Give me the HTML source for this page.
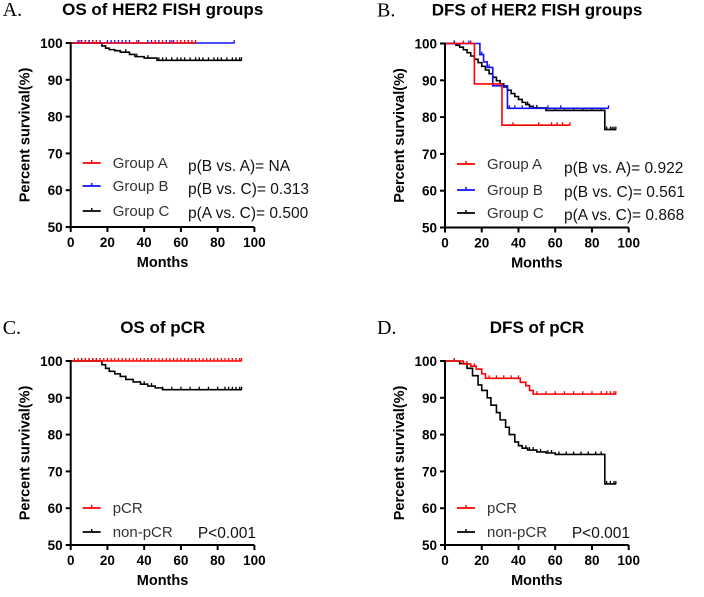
<!DOCTYPE html>
<html><head><meta charset="utf-8"><style>
html,body{margin:0;padding:0;background:#fff;}
svg text{font-family:"Liberation Sans",Arial,sans-serif;}
svg text.serif{font-family:"Liberation Serif","Times New Roman",serif;}
</style></head><body>
<svg id="fig" width="704" height="592" viewBox="0 0 704 592" xmlns="http://www.w3.org/2000/svg"></svg>
<script>
// ---- data (months, survival %) ----
const xTicks = [0,20,40,60,80,100];
const yTicks = [50,60,70,80,90,100];
// Panel A
const aGroupAT=[0,68], aGroupAS=[100,100], aGroupAC=[5,8,12,14,36,46,50,55,58,60,62,64,66,68];
const aGroupBT=[0,89], aGroupBS=[100,100], aGroupBC=[4,6,8,10,16,20,22,24,26,28,30,32,37,42,44,46,48,52,54,56,60,64,89];
const aGroupCT=[0,17,19,21,24,27,32,35,40,47,93], aGroupCS=[100,99.2,98.6,98.2,97.9,97.5,96.9,96.3,95.9,95.3,95.3], aGroupCC=[8,10,12,14,30,36,42,48,50,52,55,58,60,62,65,68,70,72,75,78,80,82,85,88,90,92,93];
// Panel B
const bGroupAT=[0,16,31,68], bGroupAS=[100,89,77.8,77.8], bGroupAC=[10,14,37,51,58,61,64,68];
const bGroupBT=[0,19,21,23,26,34,89], bGroupBS=[100,97,95,93.5,88.5,82.4,82.4], bGroupBC=[5,13,20,24,35,38,42,48,56,63,89];
const bGroupCT=[0,6,8,10,12,14,16,18,20,22,24,26,28,30,32,34,36,38,40,42,44,46,48,55,87,93], bGroupCS=[100,99.5,99,98.3,97.5,96.6,95.7,94.8,93.8,92.8,91.8,90.8,89.9,89,88.2,87.3,86.4,85.6,84.8,84,83.4,82.9,82.5,81.8,76.6,76.6], bGroupCC=[5,40,45,50,55,60,65,70,75,80,85,88,90,91,92,93];
// Panel C
const cPcrT=[0,93], cPcrS=[100,100], cPcrC=[2,4,6,8,10,12,14,16,18,20,22,24,26,28,30,32,34,36,38,40,42,44,46,48,50,52,54,56,58,60,62,64,66,68,70,72,74,76,78,80,82,84,86,88,90,92,93];
const cNonT=[0,17,19,21,24,27,30,34,38,42,46,50,93], cNonS=[100,99,98,97.2,96.5,95.8,95,94.3,93.7,93.2,92.7,92.2,92.2], cNonC=[6,8,10,12,14,40,44,50,55,60,65,70,75,80,84,86,88,90,92,93];
// Panel D
const dPcrT=[0,10,14,17,20,22,38,41,44,46,48,93], dPcrS=[100,99.2,98.6,97.8,96.5,95.3,95.3,94.2,93.3,92,91,91], dPcrC=[5,12,16,24,28,32,36,40,50,55,60,65,70,75,80,85,88,90,92,93];
const dNonT=[0,8,12,15,18,20,23,25,28,30,33,35,38,40,42,45,50,55,60,87,93], dNonS=[100,99.3,98,96,93.5,92,90,88,86,84,82,80,78,77,76.3,75.8,75.3,75,74.6,66.6,66.6], dNonC=[5,44,46,48,52,56,58,62,66,70,74,78,82,85,88,90,92,93];

const svg=document.getElementById('fig');
const NS='http://www.w3.org/2000/svg';
function mk(tag,attrs,parent){const e=document.createElementNS(NS,tag);for(const k in attrs)e.setAttribute(k,attrs[k]);(parent||svg).appendChild(e);return e;}
function txt(s,attrs,parent){const e=mk('text',attrs,parent);e.textContent=s;return e;}

function panel(id,ox,oy,letter,title,series,legend,pvals){
  const g=mk('g',{});
  
  
  const X=m=>ox+m*1.837, Y=v=>oy+(100-v)*3.68;
  const l=txt(letter,{x:ox-68,y:oy-27,'font-size':20,'class':'serif'},g);
  
  
  const t=txt(title,{x:ox+92,y:oy-28,'font-size':17,'font-weight':'bold','text-anchor':'middle'},g);
  
  
  series.forEach(s=>{
    let d='M'+X(s.t[0])+','+Y(s.s[0]);
    for(let i=1;i<s.t.length;i++){d+=' H'+X(s.t[i])+' V'+Y(s.s[i]);}
    const p=mk('path',{d:d,fill:'none',stroke:s.c,'stroke-width':1.6},g);
    
    
    s.cz.forEach(c=>{
      let v=s.s[0];for(let i=0;i<s.t.length;i++){if(s.t[i]<=c)v=s.s[i];}
      const k=mk('line',{x1:X(c),x2:X(c),y1:Y(v)-3,y2:Y(v)+0.5,stroke:s.c,'stroke-width':1.3},g);
      
      
    });
  });
  const ax=mk('path',{d:`M${ox},${Y(100)-1} V${Y(50)} H${X(100)}`,fill:'none',stroke:'#000','stroke-width':2},g);
  
  
  yTicks.forEach(v=>{
    mk('line',{x1:ox-5,x2:ox,y1:Y(v),y2:Y(v),stroke:'#000','stroke-width':2},g);
    const e=txt(v,{x:ox-8,y:Y(v)+5,'font-size':13.5,'font-weight':'bold','text-anchor':'end'},g);
    
    
  });
  xTicks.forEach(v=>{
    mk('line',{x1:X(v),x2:X(v),y1:Y(50),y2:Y(50)+5,stroke:'#000','stroke-width':2},g);
    const e=txt(v,{x:X(v),y:Y(50)+20,'font-size':13.5,'font-weight':'bold','text-anchor':'middle'},g);
    
    
  });
  const xt=txt('Months',{x:X(50),y:Y(50)+40,'font-size':14.5,'font-weight':'bold','text-anchor':'middle'},g);
  
  
  const yt=txt('Percent survival(%)',{x:0,y:0,'font-size':14.5,'font-weight':'bold','text-anchor':'middle',transform:`translate(${ox-41},${Y(75)}) rotate(-90)`},g);
  
  
  legend.forEach((L,i)=>{
    const yy=L.y;
    mk('line',{x1:ox+12,x2:ox+30,y1:yy,y2:yy,stroke:L.c,'stroke-width':1.8},g);
    mk('line',{x1:ox+21,x2:ox+21,y1:yy-3,y2:yy,stroke:L.c,'stroke-width':1.5},g);
    const e=txt(L.n,{x:ox+42,y:yy+5,'font-size':15,fill:'#333'},g);
    
    
  });
  pvals.forEach(P=>{
    const e=txt(P.s,{x:P.x,y:P.y,'font-size':15.5,'text-anchor':P.a||'start',fill:'#111'},g);
    
    
  });
}
const R='#ff0000',B='#1010ff',K='#000';
panel('a',70.7,43,'A.','OS of HER2 FISH groups',
 [{n:'group-c',t:aGroupCT,s:aGroupCS,cz:aGroupCC,c:K},{n:'group-b',t:aGroupBT,s:aGroupBS,cz:aGroupBC,c:B},{n:'group-a',t:aGroupAT,s:aGroupAS,cz:aGroupAC,c:R}],
 [{n:'Group A',c:R,y:163},{n:'Group B',c:B,y:186},{n:'Group C',c:K,y:211}],
 [{s:'p(B vs. A)= NA',x:188,y:171},{s:'p(B vs. C)= 0.313',x:188,y:194},{s:'p(A vs. C)= 0.500',x:188,y:218}]);
panel('b',445,43.5,'B.','DFS of HER2 FISH groups',
 [{n:'group-c',t:bGroupCT,s:bGroupCS,cz:bGroupCC,c:K},{n:'group-b',t:bGroupBT,s:bGroupBS,cz:bGroupBC,c:B},{n:'group-a',t:bGroupAT,s:bGroupAS,cz:bGroupAC,c:R}],
 [{n:'Group A',c:R,y:164},{n:'Group B',c:B,y:190},{n:'Group C',c:K,y:213}],
 [{s:'p(B vs. A)= 0.922',x:564,y:173},{s:'p(B vs. C)= 0.561',x:564,y:197},{s:'p(A vs. C)= 0.868',x:564,y:220}]);
panel('c',70.7,361,'C.','OS of pCR',
 [{n:'non-pcr',t:cNonT,s:cNonS,cz:cNonC,c:K},{n:'pcr',t:cPcrT,s:cPcrS,cz:cPcrC,c:R}],
 [{n:'pCR',c:R,y:508},{n:'non-pCR',c:K,y:532}],
 [{s:'P<0.001',x:256,y:538,a:'end'}]);
panel('d',445,361,'D.','DFS of pCR',
 [{n:'non-pcr',t:dNonT,s:dNonS,cz:dNonC,c:K},{n:'pcr',t:dPcrT,s:dPcrS,cz:dPcrC,c:R}],
 [{n:'pCR',c:R,y:508},{n:'non-pCR',c:K,y:532}],
 [{s:'P<0.001',x:630,y:538,a:'end'}]);
</script>
</body></html>
